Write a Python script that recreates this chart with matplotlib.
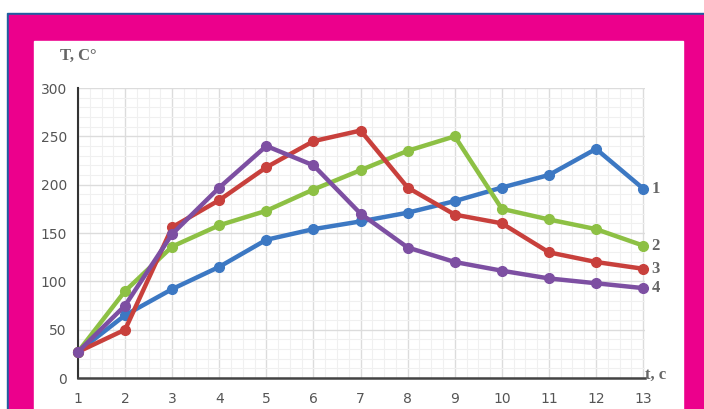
import matplotlib
matplotlib.use("Agg")
from matplotlib import pyplot as plt
from matplotlib.patches import Rectangle
from matplotlib.ticker import MultipleLocator

t = [1, 2, 3, 4, 5, 6, 7, 8, 9, 10, 11, 12, 13]
T1 = [27, 65, 92, 115, 143, 154, 162, 171, 183, 197, 210, 237, 196]
T2 = [27, 90, 136, 158, 173, 195, 215, 235, 250, 175, 164, 154, 137]
T3 = [27, 50, 156, 184, 218, 245, 256, 197, 169, 160, 130, 120, 113]
T4 = [27, 75, 149, 197, 240, 220, 170, 135, 120, 111, 103, 98, 93]
names = ["1", "2", "3", "4"]

colors = ["#3c78c3", "#8dc044", "#c8403c", "#7d4fa2"]
W, H = 704, 409

fig = plt.figure(figsize=(W / 100, H / 100), dpi=100)
fig.patch.set_facecolor("white")

def px_rect(x0, y0, x1, y1, color):
    # rectangle in pixel coords (top-left origin)
    fig.patches.append(Rectangle((x0 / W, 1 - y1 / H), (x1 - x0) / W, (y1 - y0) / H,
                                 transform=fig.transFigure, color=color, zorder=-10))

px_rect(7, 13, W, H, "#1f5fa0")
px_rect(9, 15, W, H, "#ec008c")
px_rect(34, 41, 683, H, "white")

ax = fig.add_axes([78 / W, 1 - 378 / H, (645 - 78) / W, (378 - 88) / H])
ax.set_zorder(5)
ax.set_facecolor("none")

for ys, c in zip([T1, T2, T3, T4], colors):
    ax.plot(t, ys, color=c, lw=3.2, marker="o", ms=7, zorder=3, clip_on=False)

ax.set_xlim(1, 13.04)
ax.set_ylim(0, 300)
ax.xaxis.set_major_locator(MultipleLocator(1))
ax.yaxis.set_major_locator(MultipleLocator(50))
ax.xaxis.set_minor_locator(MultipleLocator(0.25))
ax.yaxis.set_minor_locator(MultipleLocator(10))
ax.grid(which="major", color="#dcdcdc", lw=1.0)
ax.grid(which="minor", color="#f0f0f0", lw=0.8)
ax.set_axisbelow(True)

for s in ["top", "right"]:
    ax.spines[s].set_visible(False)
ax.spines["left"].set_color("#333333")
ax.spines["bottom"].set_color("#444444")
ax.spines["left"].set_linewidth(1.5)
ax.spines["bottom"].set_linewidth(1.8)
ax.tick_params(which="both", length=0)
ax.tick_params(axis="x", pad=10, labelsize=10, labelcolor="#555555")
ax.tick_params(axis="y", pad=8, labelsize=10, labelcolor="#555555")

for ys, n in zip([T1, T2, T3, T4], names):
    ax.annotate(n, (t[-1], ys[-1]), xytext=(6, 0), textcoords="offset points",
                va="center", ha="left", fontsize=12, fontweight="bold",
                family="Liberation Serif", color="#666666")

fig.text(60 / W, 1 - 56 / H, "T, C°", fontsize=12, fontweight="bold",
         family="Liberation Serif", color="#666666", va="center")
fig.text(645 / W, 1 - 375 / H, "t, c", fontsize=12, fontweight="bold",
         family="Liberation Serif", color="#666666", va="center")

fig.savefig("out.png", dpi=100)
